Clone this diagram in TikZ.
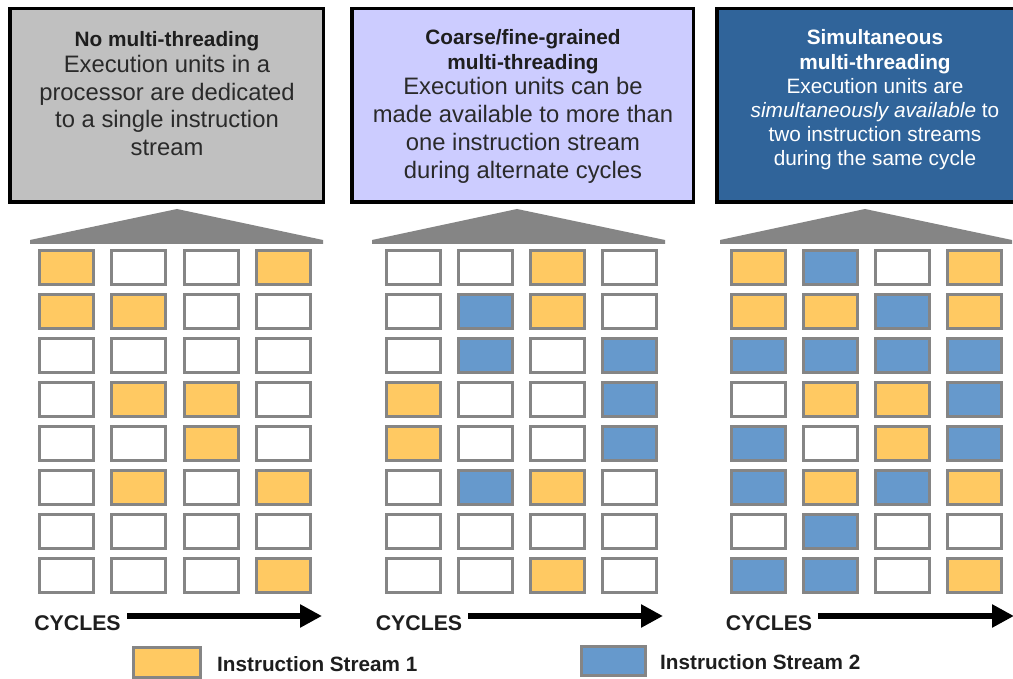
\documentclass[tikz,border=0pt]{standalone}
\usepackage{fontspec}
\setmainfont{Liberation Sans}
\usetikzlibrary{arrows.meta}

\definecolor{hdrgray}{HTML}{C0C0C0}
\definecolor{hdrlav}{HTML}{CCCCFF}
\definecolor{hdrblue}{HTML}{30649A}
\definecolor{streamA}{HTML}{FFC962}
\definecolor{streamB}{HTML}{6699CC}
\definecolor{cellframe}{HTML}{858585}
\definecolor{roofgray}{HTML}{858585}
\definecolor{inkdark}{HTML}{1E1E1E}
\definecolor{inkbody}{HTML}{2A2A2A}

\tikzset{
  hdrbox/.style={draw=black, line width=3.5pt, rectangle, inner sep=0pt},
  titleline/.style={anchor=base, inner sep=0pt, text=inkdark,
    font=\fontsize{20.8}{24}\selectfont\bfseries},
  bodyline/.style={anchor=base, inner sep=0pt, text=inkbody,
    font=\fontsize{23.8}{28}\selectfont},
  smallbody/.style={anchor=base, inner sep=0pt, text=white,
    font=\fontsize{20.8}{24}\selectfont},
  cell/.style={draw=cellframe, line width=3pt, rectangle, inner sep=0pt,
    minimum width=54pt, minimum height=34pt},
  cY/.style={fill=streamA},
  cB/.style={fill=streamB},
  cW/.style={fill=white},
  roof/.style={fill=roofgray},
  cyclabel/.style={anchor=base, inner sep=0pt, text=inkdark,
    font=\fontsize{21.3}{24}\selectfont\bfseries},
  cycarrow/.style={line width=6.5pt, -{Triangle[length=22pt,width=22pt]}},
  legendlabel/.style={anchor=base west, inner sep=0pt, text=inkdark,
    font=\fontsize{20.7}{24}\selectfont\bfseries},
}

\begin{document}
\begin{tikzpicture}[x=1pt, y=-1pt]
\useasboundingbox (0,0) rectangle (1013,679);
\fill[white] (0,0) rectangle (1013,679);

% ---- header boxes ----
\node[hdrbox, fill=hdrgray, minimum width=313.5pt, minimum height=193.5pt] (hdr1) at (166.5,105.5) {};
\node[hdrbox, fill=hdrlav, minimum width=341.5pt, minimum height=193.5pt] (hdr2) at (522.5,105.5) {};
\node[hdrbox, fill=hdrblue, minimum width=316.5pt, minimum height=193.5pt] (hdr3) at (875,105.5) {};

% no multi-threading
\node[titleline] (h1a) at (167,47) {No multi-threading};
\node[bodyline] (h1b) at (167,73) {Execution units in a};
\node[bodyline] (h1c) at (167,100.5) {processor are dedicated};
\node[bodyline] (h1d) at (167,128) {to a single instruction};
\node[bodyline] (h1e) at (167,155.5) {stream};

% coarse/fine-grained
\node[titleline] (h2a) at (523,45) {Coarse/fine-grained};
\node[titleline] (h2b) at (523,69.5) {multi-threading};
\node[bodyline] (h2c) at (523,95) {Execution units can be};
\node[bodyline] (h2d) at (523,123) {made available to more than};
\node[bodyline] (h2e) at (523,151) {one instruction stream};
\node[bodyline] (h2f) at (523,179) {during alternate cycles};

% simultaneous
\node[titleline, text=white] (h3a) at (875,45) {Simultaneous};
\node[titleline, text=white] (h3b) at (875,70) {multi-threading};
\node[smallbody] (h3c) at (875,94) {Execution units are};
\node[smallbody] (h3d) at (875,118) {\textit{simultaneously available} to};
\node[smallbody] (h3e) at (875,142) {two instruction streams};
\node[smallbody] (h3f) at (875,166) {during the same cycle};

% ---- roofs ----
\fill[roof] (30,244) -- (30,240) -- (177,209) -- (323,240) -- (323,244) -- cycle;
\fill[roof] (372,244) -- (372,240) -- (517,209) -- (665,240) -- (665,244) -- cycle;
\fill[roof] (720,244) -- (720,240) -- (865,209) -- (1012,240) -- (1012,244) -- cycle;

% ---- execution unit grids (rows = cycles) ----
\foreach \row [count=\r] in {{Y,W,W,Y},{Y,Y,W,W},{W,W,W,W},{W,Y,Y,W},
                             {W,W,Y,W},{W,Y,W,Y},{W,W,W,W},{W,W,W,Y}}
  \foreach \c [count=\k] in \row
    \node[cell, c\c] (a-\r-\k) at ({66.5+72.3*(\k-1)},{267.5+44*(\r-1)}) {};

\foreach \row [count=\r] in {{W,W,Y,W},{W,B,Y,W},{W,B,W,B},{Y,W,W,B},
                             {Y,W,W,B},{W,B,Y,W},{W,W,W,W},{W,W,Y,W}}
  \foreach \c [count=\k] in \row
    \node[cell, c\c] (b-\r-\k) at ({413+72*(\k-1)},{267.5+44*(\r-1)}) {};

\foreach \row [count=\r] in {{Y,B,W,Y},{Y,Y,B,Y},{B,B,B,B},{W,Y,Y,B},
                             {B,W,Y,B},{B,Y,B,Y},{W,B,W,W},{B,B,W,Y}}
  \foreach \c [count=\k] in \row
    \node[cell, c\c] (c-\r-\k) at ({758+72*(\k-1)},{267.5+44*(\r-1)}) {};

% ---- cycle arrows ----
\node[cyclabel] (cyc1) at (77.5,630) {CYCLES};
\node[cyclabel] (cyc2) at (419,630) {CYCLES};
\node[cyclabel] (cyc3) at (769,630) {CYCLES};
\coordinate (s1) at (127,616);  \coordinate (e1) at (322,616);
\coordinate (s2) at (468,616);  \coordinate (e2) at (663,616);
\coordinate (s3) at (818,616);  \coordinate (e3) at (1014,616);
\draw[cycarrow] (s1) -- (e1);
\draw[cycarrow] (s2) -- (e2);
\draw[cycarrow] (s3) -- (e3);

% ---- legend ----
\node[cell, cY, minimum width=67pt, minimum height=30pt] (legA) at (167,662) {};
\node[legendlabel] (legAt) at (217,671) {Instruction Stream 1};
\node[cell, cB, minimum width=64pt, minimum height=29pt] (legB) at (613.5,661) {};
\node[legendlabel] (legBt) at (660,669) {Instruction Stream 2};
\end{tikzpicture}
\end{document}
